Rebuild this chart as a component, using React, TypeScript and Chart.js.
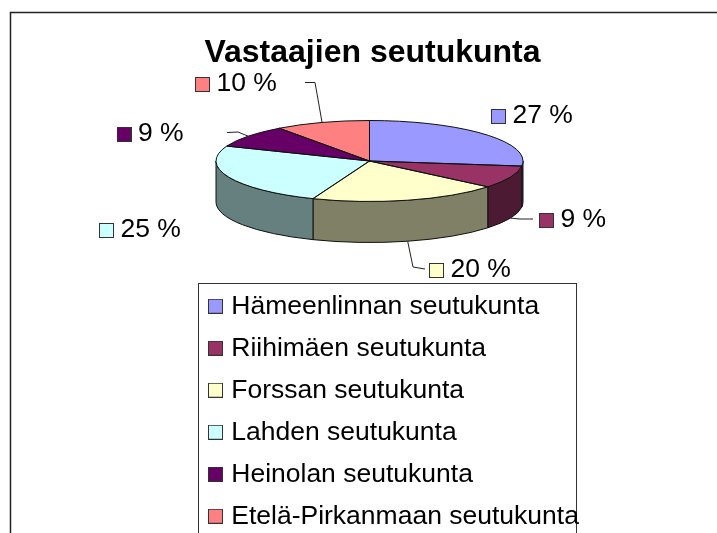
import React, { useEffect, useRef } from "react";
import { Chart, registerables } from "chart.js";

Chart.register(...registerables);

const titleText = "Vastaajien seutukunta";
const categories = [
  "Hämeenlinnan seutukunta",
  "Riihimäen seutukunta",
  "Forssan seutukunta",
  "Lahden seutukunta",
  "Heinolan seutukunta",
  "Etelä-Pirkanmaan seutukunta",
];
const shares = [27, 9, 20, 25, 9, 10];
const sliceColors = ["#9999ff", "#993366", "#ffffcc", "#ccffff", "#660066", "#ff8080"];

const FONT = "'Liberation Sans', Arial, sans-serif";
const PIE = { cx: 369.5, cy: 161, rx: 153.5, ry: 40.5, depth: 41 };
// Where each data label's swatch starts, and the leader line's bends.
const labelSpots = [
  { x: 491, y: 116, bends: null },
  { x: 539, y: 220, bends: [[520, 219], [533, 219]] },
  { x: 429, y: 270, bends: [[413, 267], [425, 269]] },
  { x: 99, y: 230, bends: null },
  { x: 116.5, y: 134, bends: [[238, 132], [227, 132.5]] },
  { x: 195, y: 84, bends: [[315, 82.5], [305, 82.5]] },
];

function darken(hex: string) {
  const n = parseInt(hex.slice(1), 16);
  const half = (v: number) => Math.round(v / 2);
  return `rgb(${half((n >> 16) & 255)},${half((n >> 8) & 255)},${half(n & 255)})`;
}

function makeSwatch(color: string) {
  const c = document.createElement("canvas");
  c.width = 15;
  c.height = 15;
  const g = c.getContext("2d")!;
  g.fillStyle = color;
  g.fillRect(0, 0, 15, 15);
  g.strokeStyle = "#333";
  g.lineWidth = 1;
  g.strokeRect(0.5, 0.5, 14, 14);
  return c;
}

const swatches = sliceColors.map(makeSwatch);

const pie3d = {
  id: "pie3d",
  beforeDraw(chart: any) {
    const { ctx } = chart;
    ctx.save();
    ctx.fillStyle = "#fff";
    ctx.fillRect(0, 0, 717, 533);
    ctx.strokeStyle = "#222";
    ctx.lineWidth = 1.5;
    ctx.beginPath();
    ctx.moveTo(10.5, 540);
    ctx.lineTo(10.5, 12.5);
    ctx.lineTo(717, 12.5);
    ctx.stroke();
    ctx.lineWidth = 1;
    ctx.strokeStyle = "#333";
    ctx.strokeRect(198.5, 283.5, 378, 270);
    ctx.restore();
  },
  beforeDatasetDraw(chart: any) {
    const { ctx } = chart;
    const arcs = chart.getDatasetMeta(0).data;
    const { cx, cy, rx, ry, depth } = PIE;
    ctx.save();
    ctx.strokeStyle = "#111";
    ctx.lineWidth = 1;
    arcs.forEach((arc: any, i: number) => {
      const a = Math.max(arc.startAngle, 0);
      const b = Math.min(arc.endAngle, Math.PI);
      if (a >= b) return;
      ctx.beginPath();
      ctx.ellipse(cx, cy, rx, ry, 0, a, b);
      ctx.ellipse(cx, cy + depth, rx, ry, 0, b, a, true);
      ctx.closePath();
      ctx.fillStyle = darken(sliceColors[i]);
      ctx.fill();
      ctx.stroke();
    });
    ctx.restore();
    // Squash the library's own arcs into the top face of the disc.
    const first = arcs[0];
    ctx.save();
    ctx.translate(cx, cy);
    ctx.scale(rx / first.outerRadius, ry / first.outerRadius);
    ctx.translate(-first.x, -first.y);
  },
  afterDatasetDraw(chart: any) {
    const { ctx } = chart;
    ctx.restore();
    const arcs = chart.getDatasetMeta(0).data;
    const { cx, cy, rx, ry, depth } = PIE;
    ctx.save();
    ctx.strokeStyle = "#111";
    ctx.lineWidth = 1;
    arcs.forEach((arc: any) => {
      ctx.beginPath();
      ctx.moveTo(cx, cy);
      ctx.ellipse(cx, cy, rx, ry, 0, arc.startAngle, arc.endAngle);
      ctx.closePath();
      ctx.stroke();
    });
    ctx.strokeStyle = "#222";
    ctx.font = `26.5px ${FONT}`;
    ctx.textBaseline = "middle";
    ctx.textAlign = "left";
    arcs.forEach((arc: any, i: number) => {
      const mid = (arc.startAngle + arc.endAngle) / 2;
      const spot = labelSpots[i];
      if (spot.bends) {
        const lower = Math.sin(mid) > 0;
        ctx.beginPath();
        ctx.moveTo(cx + rx * Math.cos(mid), cy + ry * Math.sin(mid) + (lower ? depth : 0));
        spot.bends.forEach((p) => ctx.lineTo(p[0], p[1]));
        ctx.stroke();
      }
      ctx.drawImage(swatches[i], spot.x, spot.y - 7);
      ctx.fillStyle = "#000";
      ctx.fillText(`${shares[i]} %`, spot.x + 21.5, spot.y);
    });
    ctx.restore();
  },
  afterLayout(chart: any) {
    const legend = chart.legend;
    const pad = legend.options.labels.padding;
    legend.left = 213 - pad;
    legend.top = 293 - pad;
    legend.right = 717;
    legend.bottom = 700;
  },
};

export default function App() {
  const ref = useRef<HTMLCanvasElement>(null);
  useEffect(() => {
    const chart: any = new Chart(ref.current!, {
      type: "pie",
      data: {
        labels: categories,
        datasets: [
          {
            data: shares,
            backgroundColor: sliceColors,
            borderWidth: 0,
            clip: false,
          } as any,
        ],
      },
      options: {
        responsive: false,
        animation: false,
        devicePixelRatio: 1,
        radius: 153.5,
        layout: { padding: { left: 28, right: 0, top: 0, bottom: 0 } },
        plugins: {
          tooltip: { enabled: false },
          title: {
            display: true,
            text: titleText,
            color: "#000",
            font: { family: FONT, size: 32, weight: "bold", lineHeight: 1 },
            padding: { top: 37, bottom: 10 },
          },
          legend: {
            position: "chartArea",
            align: "start",
            labels: {
              usePointStyle: true,
              pointStyleWidth: 5,
              boxHeight: 14,
              padding: 15.5,
              color: "#000",
              font: { family: FONT, size: 26.5, lineHeight: 1 },
              generateLabels: () =>
                categories.map((text, i) => ({
                  text,
                  index: i,
                  pointStyle: swatches[i],
                  fillStyle: sliceColors[i],
                  strokeStyle: "#333",
                  lineWidth: 1,
                  fontColor: "#000",
                  hidden: false,
                })),
            },
          },
        },
      } as any,
      plugins: [pie3d],
    });
    return () => chart.destroy();
  }, []);
  return (
    <canvas
      ref={ref}
      width={717}
      height={533}
      style={{ position: "fixed", left: 0, top: 0, display: "block" }}
    />
  );
}
